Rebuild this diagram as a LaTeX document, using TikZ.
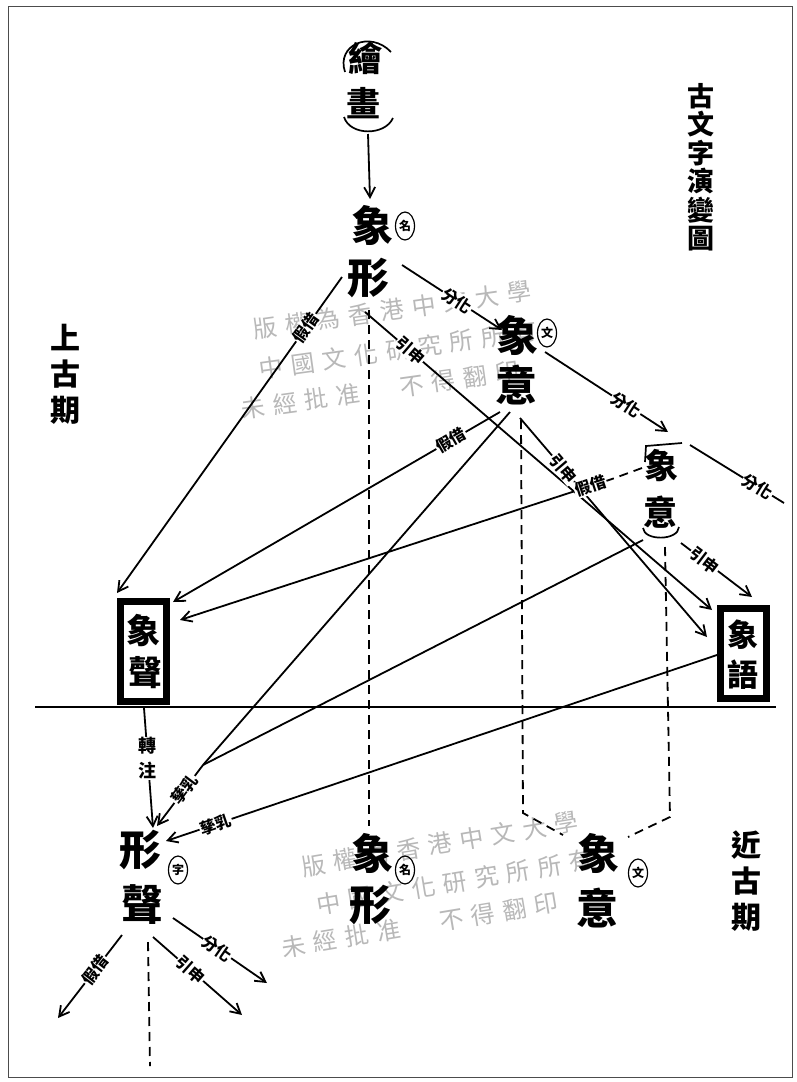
\documentclass[tikz,border=0pt]{standalone}
\usepackage{fontspec}
\newfontfamily\cjk{Noto Sans CJK TC}
\usetikzlibrary{arrows.meta,shapes.geometric}
\newcommand\wmg{\hspace{8pt}}
\begin{document}
\begin{tikzpicture}[x=1pt,y=-1pt,
  big/.style={font=\cjk\bfseries\fontsize{42}{42}\selectfont, inner sep=0pt},
  mid/.style={font=\cjk\bfseries\fontsize{34}{34}\selectfont, inner sep=0pt},
  sml/.style={font=\cjk\bfseries\fontsize{31}{31}\selectfont, inner sep=0pt},
  circ/.style={draw, ellipse, line width=1.2pt, inner sep=0.5pt, minimum width=19pt, minimum height=28pt, font=\cjk\bfseries\fontsize{12}{12}\selectfont},
  lbl/.style={font=\cjk\bfseries\fontsize{16}{16}\selectfont, sloped, fill=white, inner sep=0.8pt},
  con/.style={line width=1.8pt},
  arr/.style={con, -{Straight Barb[length=10pt,width=11pt]}},
  dsh/.style={line width=1.8pt, dash pattern=on 9pt off 6pt},
  boxed/.style={draw, line width=7pt, minimum width=46pt, inner sep=0pt},
  wm/.style={font=\cjk\fontsize{24}{24}\selectfont, text=black!28, inner sep=0pt},
  period/.style={font=\cjk\bfseries\fontsize{30}{36}\selectfont, align=center, inner sep=0pt}
]
\useasboundingbox (0,0) rectangle (797,1082);
\fill[white] (0,0) rectangle (797,1082);
\draw[line width=0.8pt, black!70] (8,6) rectangle (792,1077);

% watermark
\node[wm, rotate=8] (wmA1) at (392,310) {版\wmg 權\wmg 為\wmg 香\wmg 港\wmg 中\wmg 文\wmg 大\wmg 學};
\node[wm, rotate=8] (wmA2) at (398,350) {中\wmg 國\wmg 文\wmg 化\wmg 研\wmg 究\wmg 所\wmg 所\wmg 有};
\node[wm, rotate=8] (wmA3) at (380,390) {未\wmg 經\wmg 批\wmg 准\hspace{40pt}不\wmg 得\wmg 翻\wmg 印};
\node[wm, rotate=9.5] (wmB1) at (440,844) {版\wmg 權\wmg 為\wmg 香\wmg 港\wmg 中\wmg 文\wmg 大\wmg 學};
\node[wm, rotate=9.5] (wmB2) at (455,882) {中\wmg 國\wmg 文\wmg 化\wmg 研\wmg 究\wmg 所\wmg 所\wmg 有};
\node[wm, rotate=9.5] (wmB3) at (420,925) {未\wmg 經\wmg 批\wmg 准\hspace{40pt}不\wmg 得\wmg 翻\wmg 印};

% titles
\node[font=\cjk\bfseries\fontsize{27}{28.5}\selectfont, align=center, inner sep=0pt] (title) at (701,167) {古\\文\\字\\演\\變\\圖};
\node[period] (upper) at (65,374) {上\\古\\期};
\node[period] (later) at (746,881) {近\\古\\期};

% divider
\draw[line width=2.6pt] (35,707) -- (776,707);

% nodes
\node[mid] (hh1) at (365,58) {繪};
\node[mid] (hh2) at (363,103) {畫};
\draw[line width=1.7pt] (345,72) .. controls (336,45) and (370,30) .. (391,52);
\draw[line width=1.7pt] (344,117) .. controls (350,136) and (385,136) .. (393,118);

\node[big] (xx1) at (372,225) {象};
\node[big] (xx2) at (368,278) {形};
\node[circ] (ming1) at (405,226) {名};

\node[big] (yi1) at (517,335) {象};
\node[big] (yi2) at (516,385) {意};
\node[circ] (wen1) at (547,333) {文};

\node[mid] (by1) at (661,466) {象};
\node[mid] (by2) at (660,512) {意};
\draw[line width=1.7pt] (645,462) -- (646,446) -- (682,443);
\draw[line width=1.7pt] (643,528) .. controls (644,541) and (678,541) .. (679,527);

\node[boxed, minimum height=100pt] (szbox) at (143,651) {};
\node[mid] (sz1) at (143,631) {象};
\node[mid] (sz2) at (145,673) {聲};

\node[boxed, minimum height=90pt] (sybox) at (743,653) {};
\node[sml] (sy1) at (743,635) {象};
\node[sml] (sy2) at (743,675) {語};

\node[big] (xs1) at (140,850) {形};
\node[big] (xs2) at (142,905) {聲};
\node[circ] (zi) at (178,870) {字};

\node[big] (bx1) at (372,853) {象};
\node[big] (bx2) at (370,905) {形};
\node[circ] (ming2) at (405,870) {名};

\node[big] (bi1) at (598,853) {象};
\node[big] (bi2) at (597,908) {意};
\node[circ] (wen2) at (638,873) {文};

% coordinates
\coordinate (c1s) at (368,134);   \coordinate (c1e) at (370,199);
\coordinate (c2s) at (402,265);   \coordinate (c2e) at (502,330);
\coordinate (c3s) at (342,277);   \coordinate (c3e) at (117,593);
\coordinate (c4s) at (365,312);   \coordinate (c4e) at (712,610);
\coordinate (c5s) at (369,310);   \coordinate (c5e) at (369,826);
\coordinate (c6s) at (545,352);   \coordinate (c6e) at (668,432);
\coordinate (c7s) at (690,445);   \coordinate (c7e) at (784,503);
\coordinate (c8s) at (500,412);   \coordinate (c8e) at (173,602);
\coordinate (c9s) at (510,412);
\coordinate (c10s) at (643,540);
\coordinate (conv) at (203,765);  \coordinate (c11e) at (157,826);
\coordinate (c12s) at (642,468);  \coordinate (c12m) at (612,479); \coordinate (c12e) at (180,620);
\coordinate (c13s) at (520,418);  \coordinate (c13e) at (707,637);
\coordinate (c14s) at (681,543);  \coordinate (c14e) at (752,597);
\coordinate (c15s) at (521,420);  \coordinate (c15m) at (523,813); \coordinate (c15e) at (563,835);
\coordinate (c16s) at (665,547);  \coordinate (c16m) at (670,817); \coordinate (c16e) at (628,837);
\coordinate (c17s) at (717,655);  \coordinate (c17e) at (166,841);
\coordinate (c18s) at (144,708);  \coordinate (c18e) at (153,828);
\coordinate (c19s) at (122,935);  \coordinate (c19e) at (58,1018);
\coordinate (c20s) at (153,937);  \coordinate (c20e) at (242,1015);
\coordinate (c21s) at (173,918);  \coordinate (c21e) at (267,983);
\coordinate (c22s) at (148,942);  \coordinate (c22e) at (150,1066);

% connectors
\draw[arr] (c1s) -- (c1e);
\draw[dsh] (c5s) -- (c5e);
\draw[dsh] (c15s) -- (c15m) -- (c15e);
\draw[dsh] (c16s) -- (c16m) -- (c16e);
\draw[dsh] (c22s) -- (c22e);
\draw[dsh] (c12s) -- (c12m);

\draw[arr] (c3s) -- node[lbl,pos=.16] {假借} (c3e);
\draw[arr] (c4s) -- node[lbl,pos=.13] {引申} (c4e);
\draw[arr] (c8s) -- node[lbl,pos=.15] {假借} (c8e);
\draw[con] (c9s) -- (conv);
\draw[con] (c10s) -- (conv);
\draw[arr] (conv) -- node[lbl,pos=.4] {孳乳} (c11e);
\draw[arr] (c13s) -- node[lbl,pos=.23] {引申} (c13e);
\draw[arr] (c12m) -- node[lbl,pos=.05] {假借} (c12e);
\draw[arr] (c17s) -- node[lbl,pos=.91] {孳乳} (c17e);
\draw[arr] (c2s) -- node[lbl,pos=.55] {分化} (c2e);
\draw[arr] (c6s) -- node[lbl,pos=.66] {分化} (c6e);
\draw[con] (c7s) -- node[lbl,pos=.72] {分化} (c7e);
\draw[arr] (c14s) -- node[lbl,pos=.33] {引申} (c14e);
\draw[arr] (c18s) -- node[font=\cjk\bfseries\fontsize{18}{25}\selectfont, align=center, fill=white, inner sep=0.8pt, pos=.42] (zz) {轉\\注} (c18e);
\draw[arr] (c19s) -- node[lbl,pos=.42] {假借} (c19e);
\draw[arr] (c20s) -- node[lbl,pos=.42] {引申} (c20e);
\draw[arr] (c21s) -- node[lbl,pos=.47] {分化} (c21e);
\end{tikzpicture}
\end{document}
